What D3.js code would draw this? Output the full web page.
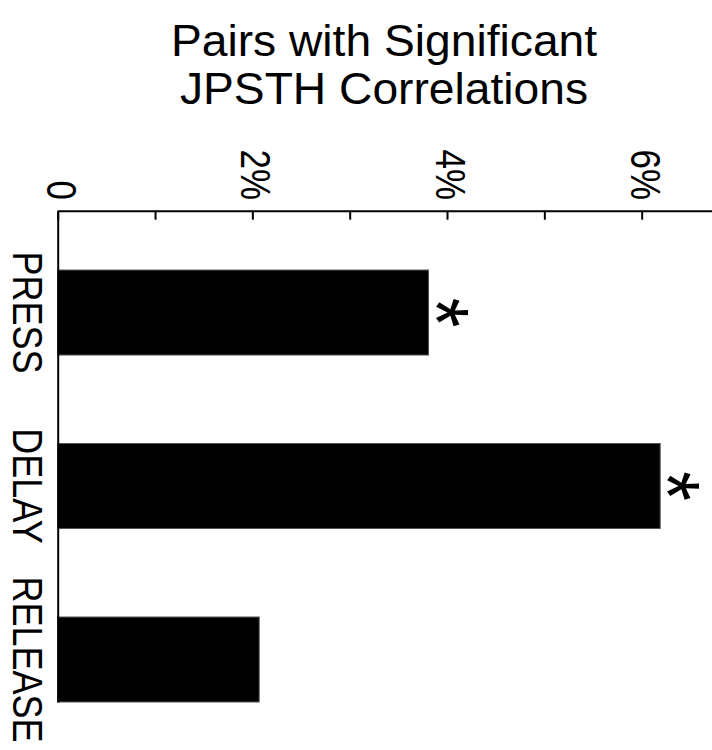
<!DOCTYPE html>
<html>
<head>
<meta charset="utf-8">
<script src="https://cdn.jsdelivr.net/npm/d3@7"></script>
<style>
  html, body { margin: 0; padding: 0; background: #fff; }
  svg { display: block; font-family: "Liberation Sans", Arial, Helvetica, sans-serif; }
</style>
</head>
<body>
<svg id="chart" width="712" height="750"></svg>
<script>
// ---- data ----
const titleLines = ["Pairs with Significant", "JPSTH Correlations"];
const categories = ["PRESS", "DELAY", "RELEASE"];
const values = [3.81, 6.19, 2.07];          // percent of pairs
const significant = [true, true, false];
const tickValues = [0, 1, 2, 3, 4, 5, 6];
const tickLabels = ["0", "", "2%", "", "4%", "", "6%"];

// ---- layout ----
const W = 712, H = 750;
const svg = d3.select("#chart");
const sx = 1.2; // horizontal stretch of lettering

const x = d3.scaleLinear().domain([0, 6.75]).range([57.7, 57.7 + 6.75 * 97.33]);
const y = d3.scaleBand().domain(categories).range([210.7, 702])
  .paddingInner(0.51).paddingOuter(0.171).align(1);

// title
svg.append("g").selectAll("text").data(titleLines).join("text")
  .attr("transform", (d, i) => `translate(384,${56 + i * 48}) scale(1.05,1)`)
  .attr("text-anchor", "middle")
  .attr("font-size", 44)
  .attr("fill", "#000")
  .text(d => d);

// bars
const rows = categories.map((c, i) => ({ c, v: values[i], sig: significant[i] }));
svg.append("g").selectAll("rect").data(rows).join("rect")
  .attr("x", x(0))
  .attr("y", d => y(d.c))
  .attr("width", d => x(d.v) - x(0))
  .attr("height", y.bandwidth())
  .attr("fill", "#000")
  .attr("stroke", "#555")
  .attr("stroke-width", 1);

// top value axis
const gx = svg.append("g").attr("transform", `translate(0,${y.range()[0]})`)
  .call(d3.axisTop(x).tickValues(tickValues).tickSize(-9).tickSizeOuter(0).tickFormat(""));
gx.selectAll("path, line").attr("stroke", "#000").attr("stroke-width", 2);

// left category axis line
const gy = svg.append("g").attr("transform", `translate(${x(0)},0)`)
  .call(d3.axisLeft(y).tickSize(0).tickSizeOuter(0).tickFormat(""));
gy.selectAll("path").attr("stroke", "#000").attr("stroke-width", 2);

// rotated tick labels
svg.append("g").selectAll("text")
  .data(tickValues.map((v, i) => ({ v, t: tickLabels[i] })).filter(d => d.t !== ""))
  .join("text")
  .attr("transform", d => `translate(${x(d.v) - 11},200) scale(${sx},1) rotate(90)`)
  .attr("text-anchor", "end")
  .attr("font-size", 35)
  .attr("fill", "#000")
  .text(d => d.t);

// rotated category labels
svg.append("g").selectAll("text").data(rows).join("text")
  .attr("transform", d => `translate(13,${y(d.c) + y.bandwidth() / 2}) scale(${sx},1) rotate(90)`)
  .attr("text-anchor", "middle")
  .attr("font-size", 36)
  .attr("fill", "#000")
  .text(d => d.c);

// significance asterisks
svg.append("g").selectAll("text").data(rows.filter(d => d.sig)).join("text")
  .attr("transform", d => `translate(${x(d.v) - 24},${y(d.c) + y.bandwidth() / 2}) scale(${sx},1) rotate(90)`)
  .attr("text-anchor", "middle")
  .attr("font-size", 76)
  .attr("fill", "#000")
  .text("*");
</script>
</body>
</html>
